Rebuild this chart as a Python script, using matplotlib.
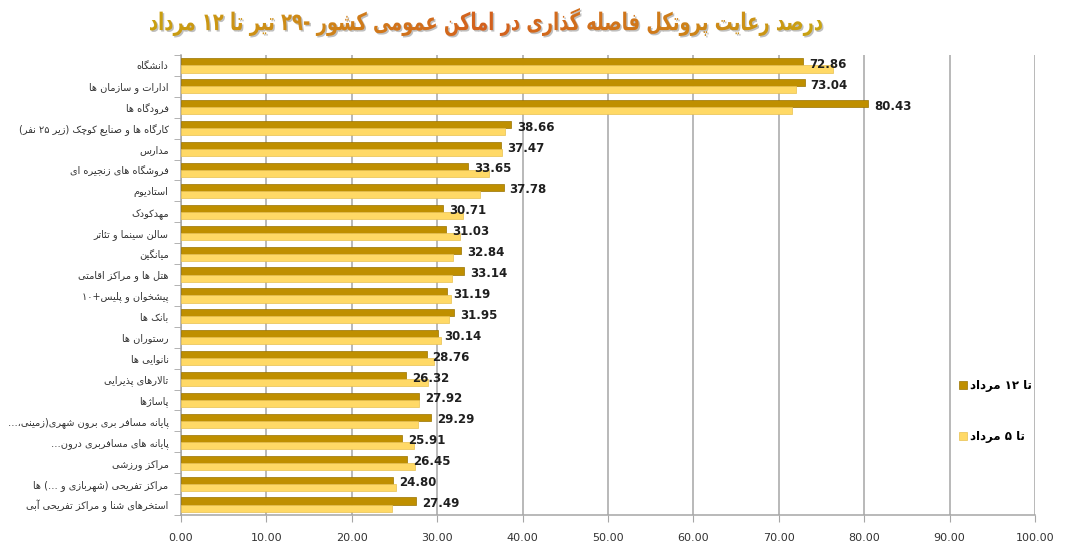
import numpy as np
import matplotlib
matplotlib.use("Agg")
import matplotlib.pyplot as plt
from matplotlib.textpath import TextPath
from matplotlib.font_manager import FontProperties
from matplotlib.patches import PathPatch
from matplotlib.transforms import Affine2D
from matplotlib.colors import LinearSegmentedColormap

# categories, top to bottom
categories = [
    "دانشگاه",
    "ادارات و سازمان ها",
    "فرودگاه ها",
    "کارگاه ها و صنایع کوچک (زیر ۲۵ نفر)",
    "مدارس",
    "فروشگاه های زنجیره ای",
    "استادیوم",
    "مهدکودک",
    "سالن سینما و تئاتر",
    "میانگین",
    "هتل ها و مراکز اقامتی",
    "پیشخوان و پلیس+۱۰",
    "بانک ها",
    "رستوران ها",
    "نانوایی ها",
    "تالارهای پذیرایی",
    "پاساژها",
    "پایانه مسافر بری برون شهری(زمینی،…",
    "پایانه های مسافربری درون…",
    "مراکز ورزشی",
    "مراکز تفریحی (شهربازی و …) ها",
    "استخرهای شنا و مراکز تفریحی آبی",
]
until_12 = [72.86, 73.04, 80.43, 38.66, 37.47, 33.65, 37.78, 30.71, 31.03, 32.84, 33.14,
            31.19, 31.95, 30.14, 28.76, 26.32, 27.92, 29.29, 25.91, 26.45, 24.80, 27.49]
until_5 = [76.4, 72.0, 71.6, 37.9, 37.6, 36.1, 35.05, 33.0, 32.7, 31.9, 31.7,
           31.6, 31.4, 30.5, 29.6, 28.9, 27.9, 27.7, 27.3, 27.4, 25.2, 24.7]
series_names = ["تا ۱۲ مرداد", "تا ۵ مرداد"]
title = "درصد رعایت پروتکل فاصله گذاری در اماکن عمومی کشور -۲۹ تیر تا ۱۲ مرداد"
x_ticks = list(range(0, 101, 10))

# --- minimal Persian shaping + bidi, matplotlib has no complex text layout ---
# letter: (isolated, final, initial, medial); None -> does not join to the next letter
FORMS = {
    "ء": ("\uFE80", None, None, None),
    "آ": ("\uFE81", "\uFE82", None, None),
    "ا": ("\uFE8D", "\uFE8E", None, None),
    "ئ": ("\uFE89", "\uFE8A", "\uFE8B", "\uFE8C"),
    "ب": ("\uFE8F", "\uFE90", "\uFE91", "\uFE92"),
    "پ": ("\uFB56", "\uFB57", "\uFB58", "\uFB59"),
    "ت": ("\uFE95", "\uFE96", "\uFE97", "\uFE98"),
    "ث": ("\uFE99", "\uFE9A", "\uFE9B", "\uFE9C"),
    "ج": ("\uFE9D", "\uFE9E", "\uFE9F", "\uFEA0"),
    "چ": ("\uFB7A", "\uFB7B", "\uFB7C", "\uFB7D"),
    "ح": ("\uFEA1", "\uFEA2", "\uFEA3", "\uFEA4"),
    "خ": ("\uFEA5", "\uFEA6", "\uFEA7", "\uFEA8"),
    "د": ("\uFEA9", "\uFEAA", None, None),
    "ذ": ("\uFEAB", "\uFEAC", None, None),
    "ر": ("\uFEAD", "\uFEAE", None, None),
    "ز": ("\uFEAF", "\uFEB0", None, None),
    "ژ": ("\uFB8A", "\uFB8B", None, None),
    "س": ("\uFEB1", "\uFEB2", "\uFEB3", "\uFEB4"),
    "ش": ("\uFEB5", "\uFEB6", "\uFEB7", "\uFEB8"),
    "ص": ("\uFEB9", "\uFEBA", "\uFEBB", "\uFEBC"),
    "ض": ("\uFEBD", "\uFEBE", "\uFEBF", "\uFEC0"),
    "ط": ("\uFEC1", "\uFEC2", "\uFEC3", "\uFEC4"),
    "ظ": ("\uFEC5", "\uFEC6", "\uFEC7", "\uFEC8"),
    "ع": ("\uFEC9", "\uFECA", "\uFECB", "\uFECC"),
    "غ": ("\uFECD", "\uFECE", "\uFECF", "\uFED0"),
    "ف": ("\uFED1", "\uFED2", "\uFED3", "\uFED4"),
    "ق": ("\uFED5", "\uFED6", "\uFED7", "\uFED8"),
    "ک": ("\uFB8E", "\uFB8F", "\uFB90", "\uFB91"),
    "گ": ("\uFB92", "\uFB93", "\uFB94", "\uFB95"),
    "ل": ("\uFEDD", "\uFEDE", "\uFEDF", "\uFEE0"),
    "م": ("\uFEE1", "\uFEE2", "\uFEE3", "\uFEE4"),
    "ن": ("\uFEE5", "\uFEE6", "\uFEE7", "\uFEE8"),
    "ه": ("\uFEE9", "\uFEEA", "\uFEEB", "\uFEEC"),
    "و": ("\uFEED", "\uFEEE", None, None),
    "ی": ("\uFBFC", "\uFBFD", "\uFBFE", "\uFBFF"),
}
MIRROR = {"(": ")", ")": "("}


def joins_next(ch):
    return ch in FORMS and FORMS[ch][2] is not None


def shape(text):
    out = []
    i = 0
    while i < len(text):
        ch = text[i]
        if ch not in FORMS:
            out.append(ch)
            i += 1
            continue
        prev = text[i - 1] if i > 0 else ""
        after = text[i + 1] if i + 1 < len(text) else ""
        from_prev = joins_next(prev)
        if ch == "ل" and after in ("ا", "آ"):
            lig = ("\uFEFB", "\uFEFC") if after == "ا" else ("\uFEF5", "\uFEF6")
            out.append(lig[1] if from_prev else lig[0])
            i += 2
            continue
        to_next = joins_next(ch) and after in FORMS
        iso, fin, ini, med = FORMS[ch]
        if from_prev and to_next:
            out.append(med)
        elif from_prev:
            out.append(fin or iso)
        elif to_next:
            out.append(ini)
        else:
            out.append(iso)
        i += 1
    return "".join(out)


def fa(text):
    s = shape(text)
    runs = []
    for ch in s:
        ltr = ch.isdigit() or ch.isascii() and ch.isalpha()
        if runs and runs[-1][0] == ltr:
            runs[-1][1].append(ch)
        else:
            runs.append([ltr, [ch]])
    out = []
    for ltr, chars in reversed(runs):
        if ltr:
            out.append("".join(chars))
        else:
            out.append("".join(MIRROR.get(c, c) for c in reversed(chars)))
    return "".join(out)


plt.rcParams["font.family"] = ["DejaVu Sans"]

W, H = 1080, 548
fig = plt.figure(figsize=(W / 100, H / 100), dpi=100)
ax = fig.add_axes([0.1676, 0.0602, 0.7907, 0.8394])

y = np.arange(len(categories))
h = 0.34
dark = "#BF8F00"
light = "#FFD966"
b1 = ax.barh(y - h / 2, until_12, height=h, color=dark, edgecolor="#9A7300", linewidth=0.5,
             label=fa(series_names[0]), zorder=3)
b2 = ax.barh(y + h / 2, until_5, height=h, color=light, edgecolor="#E8C050", linewidth=0.5,
             label=fa(series_names[1]), zorder=3)

for yi, v in zip(y, until_12):
    ax.text(v + 0.7, yi - 0.05, f"{v:.2f}", va="center", ha="left", fontsize=8.5,
            fontweight="bold", color="#1F1F1F", zorder=4)

ax.set_xlim(0, 100)
ax.set_ylim(len(categories) - 0.5, -0.5)
ax.set_xticks(x_ticks, [f"{t:.2f}" for t in x_ticks])
ax.set_yticks(y, [fa(c) for c in categories])
ax.set_yticks(np.arange(len(categories) + 1) - 0.5, minor=True)
ax.tick_params(axis="y", which="major", length=0, pad=9, labelsize=7, labelcolor="#333333")
ax.tick_params(axis="y", which="minor", length=5, color="#A6A6A6", direction="out")
ax.tick_params(axis="x", length=5, color="#A6A6A6", pad=8, labelsize=8, labelcolor="#333333")
ax.grid(axis="x", color="#A6A6A6", linewidth=1.1, zorder=0)
for side in ("top", "right"):
    ax.spines[side].set_visible(False)
for side in ("left", "bottom"):
    ax.spines[side].set_color("#A6A6A6")
    ax.spines[side].set_linewidth(1.1)

leg = ax.legend(handles=[b1, b2], loc="upper left", bbox_to_anchor=(0.905, 0.305),
                frameon=False, fontsize=8.5, handlelength=0.7, handleheight=0.7,
                handletextpad=0.3, labelspacing=3.2, borderaxespad=0)
for t in leg.get_texts():
    t.set_fontweight("bold")

# title: text outline stretched to the reference box, filled with a gold-orange gradient
tp = TextPath((0, 0), fa(title), size=20, prop=FontProperties(family="DejaVu Sans", weight="bold"))
ext = tp.get_extents()
tx0, tx1, ty0, ty1 = 150, 822, H - 36, H - 8
to_fig = (Affine2D().translate(-ext.x0, -ext.y0)
          .scale((tx1 - tx0) / ext.width / W, (ty1 - ty0) / ext.height / H)
          .translate(tx0 / W, ty0 / H))
tpath = to_fig.transform_path(tp)

shadow = PathPatch(tpath, facecolor="#8C8C8C", edgecolor="none", alpha=0.55, zorder=-1,
                   transform=Affine2D().translate(1.5 / W, -1.5 / H) + fig.transFigure)
fig.add_artist(shadow)

tax = fig.add_axes([tx0 / W, ty0 / H, (tx1 - tx0) / W, (ty1 - ty0) / H])
tax.axis("off")
grad_cmap = LinearSegmentedColormap.from_list(
    "title", [(0.0, "#C9A010"), (0.22, "#CF8A18"), (0.5, "#D4601E"), (0.75, "#D07A1A"), (1.0, "#C9A512")])
tax.imshow(np.linspace(0, 1, 256)[None, :], cmap=grad_cmap, aspect="auto",
           extent=(0, 1, 0, 1), interpolation="bilinear")
clip = PathPatch(tpath, transform=fig.transFigure)
tax.images[0].set_clip_path(clip)

fig.savefig("out.png", dpi=100, facecolor="white")
